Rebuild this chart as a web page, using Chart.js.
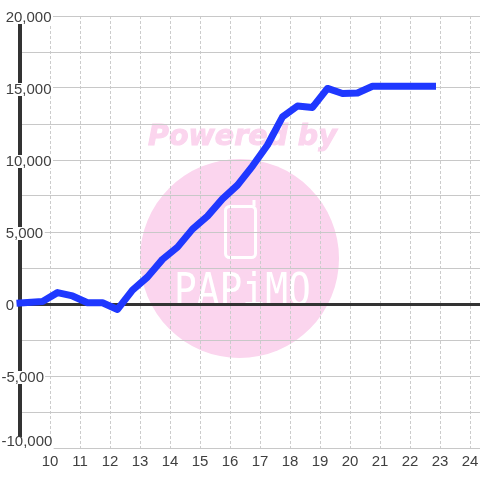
<!DOCTYPE html>
<html>
<head>
<meta charset="utf-8">
<script src="https://cdn.jsdelivr.net/npm/chart.js@4/dist/chart.umd.js"></script>
<style>
html, body { margin: 0; background: #fff; }
canvas { display: block; }
</style>
</head>
<body>
<canvas id="chart" width="480" height="480"></canvas>
<script>
const hours = [9, 9.75, 10.25, 10.75, 11.25, 11.75, 12.25, 12.75, 13.25, 13.75, 14.25, 14.75, 15.25, 15.75, 16.25, 16.75, 17.25, 17.75, 18.25, 18.75, 19.25, 19.75, 20.25, 20.75, 21.25, 21.75, 22.25, 22.75];
const balance = [70, 180, 790, 560, 90, 90, -380, 970, 1875, 3100, 3950, 5200, 6100, 7300, 8260, 9580, 11040, 12990, 13750, 13650, 14970, 14620, 14650, 15120, 15120, 15120, 15120, 15120];
const xTicks = [10, 11, 12, 13, 14, 15, 16, 17, 18, 19, 20, 21, 22, 23, 24];
const yTicks = [-10000, -7500, -5000, -2500, 0, 2500, 5000, 7500, 10000, 12500, 15000, 17500, 20000];

// logo behind the grid
const watermark = {
    id: 'watermark',
    beforeDraw(chart) {
        const c = chart.ctx;
        c.save();
        c.fillStyle = '#fbd5ee';
        c.strokeStyle = '#fbd5ee';
        c.beginPath();
        c.arc(239.5, 258.5, 99.5, 0, Math.PI * 2);
        c.fill();
        c.font = 'italic bold 28.5px "DejaVu Sans"';
        c.textAlign = 'left';
        c.textBaseline = 'alphabetic';
        c.lineWidth = 1;
        c.fillText('Powered by', 148, 145);
        c.strokeText('Powered by', 148, 145);
        c.strokeStyle = '#fff';
        c.lineWidth = 3;
        c.beginPath();
        c.roundRect(225.5, 206.5, 30, 51, 4);
        c.moveTo(254, 206);
        c.lineTo(254, 200);
        c.stroke();
        c.fillStyle = '#fff';
        c.translate(174, 305);
        c.scale(0.86, 1);
        c.font = '44px "DejaVu Sans Mono"';
        c.fillText('PAPiMO', 0, 0);
        c.restore();
    }
};

new Chart(document.getElementById('chart'), {
    type: 'line',
    data: {
        datasets: [{
            data: hours.map((h, i) => ({ x: h, y: balance[i] })),
            borderColor: '#1f38ff',
            borderWidth: 7,
            borderCapStyle: 'square',
            borderJoinStyle: 'round',
            pointRadius: 0,
            tension: 0,
            clip: false
        }]
    },
    options: {
        responsive: false,
        animation: false,
        layout: { autoPadding: false, padding: { top: 16, right: 0, bottom: 0, left: 0 } },
        plugins: { legend: { display: false }, title: { display: false }, tooltip: { enabled: false } },
        scales: {
            x: {
                type: 'linear',
                min: 9,
                max: 24.3333,
                afterBuildTicks(scale) { scale.ticks = xTicks.map(v => ({ value: v })); },
                afterFit(scale) {
                    scale.height = 32;
                    scale.paddingLeft = 0;
                    scale.paddingRight = 0;
                },
                grid: { color: '#ccc', lineWidth: 1, drawTicks: false },
                border: { display: false, dash: [3, 2] },
                ticks: {
                    autoSkip: false,
                    maxRotation: 0,
                    padding: 6,
                    z: 1,
                    color: '#3f3f3f',
                    font: { family: '"Liberation Sans"', size: 15, lineHeight: 1 }
                }
            },
            y: {
                min: -10000,
                max: 20000,
                afterBuildTicks(scale) { scale.ticks = yTicks.map(v => ({ value: v })); },
                afterFit(scale) {
                    scale.width = 20;
                    scale.paddingTop = 0;
                    scale.paddingBottom = 0;
                },
                grid: {
                    color: ctx => ctx.tick && ctx.tick.value === 0 ? '#333' : '#c8c8c8',
                    lineWidth: ctx => ctx.tick && ctx.tick.value === 0 ? 3 : 1,
                    drawTicks: false
                },
                border: { display: true, color: '#333', width: 4 },
                ticks: {
                    autoSkip: false,
                    mirror: true,
                    align: 'end',
                    padding: -18.5,
                    color: '#3f3f3f',
                    // small line height: leading blank lines push a label down from its tick
                    font: { family: '"Liberation Sans"', size: 15, lineHeight: '3.6px' },
                    showLabelBackdrop: ctx => ctx.tick.value % 5000 === 0,
                    backdropColor: '#fff',
                    backdropPadding: {
                        top: ctx => ctx.tick.value === -10000 ? 2 : -25.6,
                        bottom: ctx => ctx.tick.value === -10000 ? 5.8 : 17,
                        left: 0,
                        right: 1
                    },
                    callback(v) {
                        if (v % 5000 !== 0) return '';
                        const s = v.toLocaleString('en-US');
                        if (v === -10000) return ['', s];
                        return ['', '', '', '', '', v < 0 ? s : ' ' + s];
                    }
                }
            }
        }
    },
    plugins: [watermark]
});
</script>
</body>
</html>
